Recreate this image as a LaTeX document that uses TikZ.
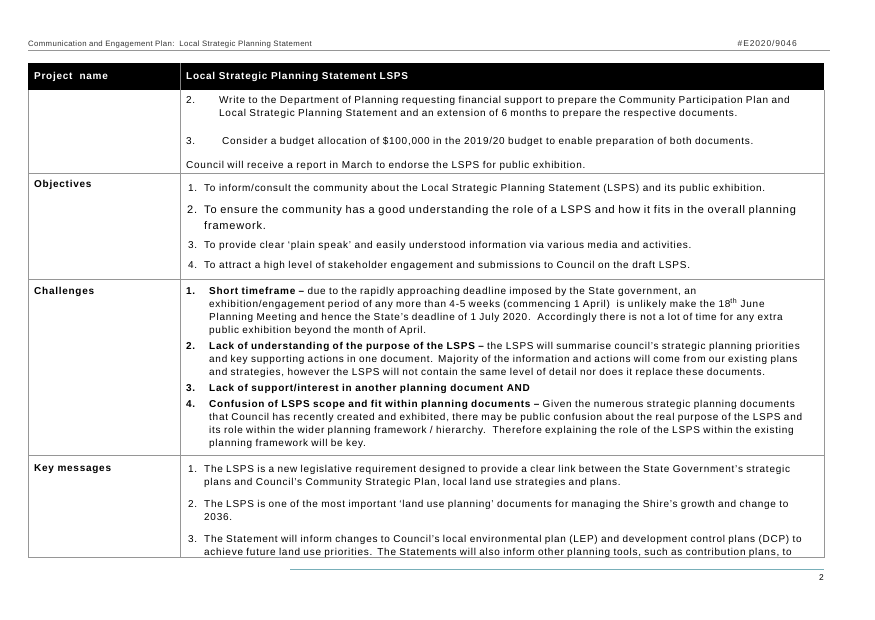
\documentclass[tikz,border=0pt]{standalone}
\usepackage{fontspec}
\setmainfont[LetterSpace=7.4]{Liberation Sans}
\newfontfamily\pagefont[LetterSpace=4.5]{Liberation Sans}
\newfontfamily\reffont[LetterSpace=10]{Liberation Sans}
\definecolor{rulegray}{RGB}{150,150,150}
\definecolor{footteal}{RGB}{120,175,185}
\begin{document}
\begin{tikzpicture}[x=1pt,y=-1pt,
	every node/.style={inner sep=0pt,anchor=base west},
	body/.style={font=\fontsize{10}{13}\selectfont},
	bbody/.style={font=\bfseries\fontsize{10}{13}\selectfont},
	big/.style={font=\fontsize{11}{16}\selectfont},
	bhead/.style={font=\bfseries\fontsize{10}{12}\selectfont,text=white},
	lbl/.style={font=\bfseries\fontsize{10}{12}\selectfont},
	para/.style={text width=680pt,align=left},
	grid/.style={draw=rulegray,line width=0.9pt}]

	\useasboundingbox (0,0) rectangle (875,619);

	% page header
	\node[font=\pagefont\fontsize{7.8}{9}\selectfont,text=black!80] (hl) at (28,46.5) {Communication and Engagement Plan:\ \ Local Strategic Planning Statement};
	\node[font=\reffont\fontsize{8.5}{9}\selectfont,text=black!80,anchor=base east] (hr) at (797,46.5) {\#E2020/9046};
	\draw[draw=rulegray,line width=0.7pt] (28,50) -- (830,50);

	% table
	\fill[black] (28,63) rectangle (824,90);
	\draw[gray,line width=0.6pt] (180,63) -- (180,90);
	\draw[grid] (28,90) -- (28,557) -- (824,557) -- (824,90);
	\draw[grid] (180,90) -- (180,557);
	\foreach \y in {173,279,455}
		\draw[grid] (28,\y) -- (824,\y);

	\node[bhead] (h1) at (34,79.5) {Project\ \ name};
	\node[bhead] (h2) at (186,79.5) {Local Strategic Planning Statement LSPS};

	% row 1
	\node[body] (r1n2) at (186,103) {2.};
	\node[body,para] (r1t2) at (219,103) {Write to the Department of Planning requesting financial support to prepare the Community Participation Plan and\\Local Strategic Planning Statement and an extension of 6 months to prepare the respective documents.};
	\node[body] (r1n3) at (186,144) {3.};
	\node[body] (r1t3) at (222,144) {Consider a budget allocation of \$100,000 in the 2019/20 budget to enable preparation of both documents.};
	\node[body] (r1c) at (186,168) {Council will receive a report in March to endorse the LSPS for public exhibition.};

	% objectives
	\node[lbl] (l2) at (34,187.5) {Objectives};
	\node[body] (o1n) at (188,191) {1.};
	\node[body] (o1) at (204,191) {To inform/consult the community about the Local Strategic Planning Statement (LSPS) and its public exhibition.};
	\node[big] (o2n) at (187,213) {2.};
	\node[big,para] (o2) at (204,213) {To ensure the community has a good understanding the role of a LSPS and how it fits in the overall planning\\framework.};
	\node[body] (o3n) at (188,248) {3.};
	\node[body] (o3) at (204,248) {To provide clear ‘plain speak’ and easily understood information via various media and activities.};
	\node[body] (o4n) at (188,268) {4.};
	\node[body] (o4) at (204,268) {To attract a high level of stakeholder engagement and submissions to Council on the draft LSPS.};

	% challenges
	\node[lbl] (l3) at (34,294) {Challenges};
	\node[bbody] (c1n) at (186,294) {1.};
	\node[body,para] (c1) at (209,294) {\textbf{Short timeframe –} due to the rapidly approaching deadline imposed by the State government, an\\exhibition/engagement period of any more than 4-5 weeks (commencing 1 April)\ \ is unlikely make the 18\textsuperscript{th} June\\Planning Meeting and hence the State’s deadline of 1 July 2020.\ \ Accordingly there is not a lot of time for any extra\\public exhibition beyond the month of April.};
	\node[bbody] (c2n) at (186,349) {2.};
	\node[body,para] (c2) at (209,349) {\textbf{Lack of understanding of the purpose of the LSPS –} the LSPS will summarise council’s strategic planning priorities\\and key supporting actions in one document. Majority of the information and actions will come from our existing plans\\and strategies, however the LSPS will not contain the same level of detail nor does it replace these documents.};
	\node[bbody] (c3n) at (186,391) {3.};
	\node[bbody] (c3) at (209,391) {Lack of support/interest in another planning document AND};
	\node[bbody] (c4n) at (186,407) {4.};
	\node[body,para] (c4) at (209,407) {\textbf{Confusion of LSPS scope and fit within planning documents –} Given the numerous strategic planning documents\\that Council has recently created and exhibited, there may be public confusion about the real purpose of the LSPS and\\its role within the wider planning framework / hierarchy.\ \ Therefore explaining the role of the LSPS within the existing\\planning framework will be key.};

	% key messages
	\node[lbl] (l4) at (34,471) {Key messages};
	\node[body] (k1n) at (188,472) {1.};
	\node[body,para] (k1) at (204,472) {The LSPS is a new legislative requirement designed to provide a clear link between the State Government’s strategic\\plans and Council’s Community Strategic Plan, local land use strategies and plans.};
	\node[body] (k2n) at (188,507) {2.};
	\node[body,para] (k2) at (204,507) {The LSPS is one of the most important ‘land use planning’ documents for managing the Shire’s growth and change to\\2036.};
	\node[body] (k3n) at (188,542) {3.};
	\node[body,para] (k3) at (204,542) {The Statement will inform changes to Council’s local environmental plan (LEP) and development control plans (DCP) to\\achieve future land use priorities. The Statements will also inform other planning tools, such as contribution plans, to};

	% page footer
	\draw[draw=footteal,line width=0.7pt] (290,569) -- (824,569);
	\node[font=\fontsize{8.4}{10}\selectfont,anchor=base east] (pg) at (824,580.5) {2};
\end{tikzpicture}
\end{document}
